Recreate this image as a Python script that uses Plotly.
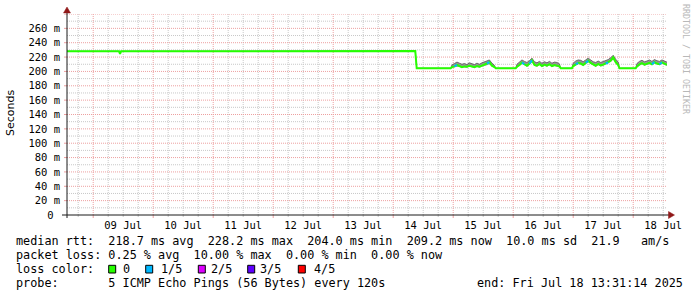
import plotly.graph_objects as go
import pandas as pd
import numpy as np

# ---------------- data ----------------
start_time = "2025-07-08 13:31:14"
end_time = "2025-07-18 13:31:14"

day_ticks = ["2025-07-09", "2025-07-10", "2025-07-11", "2025-07-12", "2025-07-13",
             "2025-07-14", "2025-07-15", "2025-07-16", "2025-07-17", "2025-07-18"]
day_label_pos = ["2025-07-09 12:00", "2025-07-10 12:00", "2025-07-11 12:00", "2025-07-12 12:00",
                 "2025-07-13 12:00", "2025-07-14 12:00", "2025-07-15 12:00", "2025-07-16 12:00",
                 "2025-07-17 12:00", "2025-07-18 12:00"]
day_labels = ["09 Jul", "10 Jul", "11 Jul", "12 Jul", "13 Jul",
              "14 Jul", "15 Jul", "16 Jul", "17 Jul", "18 Jul"]
minor_hours = ["06:00", "12:00", "18:00"]

y_tick_vals = [0, 20, 40, 60, 80, 100, 120, 140, 160, 180, 200, 220, 240, 260, 280]
y_tick_text = ["0\u00a0", "20 m", "40 m", "60 m", "80 m", "100 m", "120 m", "140 m", "160 m",
               "180 m", "200 m", "220 m", "240 m", "260 m", ""]
y_minor_vals = [10, 30, 50, 70, 90, 110, 130, 150, 170, 190, 210, 230, 250, 270]

# steady stretch before / after the drop (median rtt, ms)
steady1_times = ["2025-07-08 13:31:14", "2025-07-09 10:20:00", "2025-07-09 10:44:00", "2025-07-09 11:08:00",
                 "2025-07-14 08:50:00", "2025-07-14 09:24:00", "2025-07-14 23:00:00"]
steady1_median = [228.0, 228.0, 224.5, 228.0, 228.4, 204.4, 204.4]

steady2_times = ["2025-07-15 17:00:00", "2025-07-16 01:00:00"]
steady2_median = [204.4, 204.4]
steady3_times = ["2025-07-16 19:00:00", "2025-07-16 23:30:00"]
steady3_median = [204.4, 204.4]
steady4_times = ["2025-07-17 18:30:00", "2025-07-18 01:00:00"]
steady4_median = [204.4, 204.4]

# noisy stretches, hourly samples
segA_start = "2025-07-14 23:30"
segA_median = [206.0, 207.0, 209.0, 207.5, 206.0, 207.0, 206.5, 208.0, 207.0, 206.0, 207.5, 206.5,
               208.0, 209.0, 211.0, 213.0, 208.0, 206.0]
segA_low = [205.0, 205.5, 206.5, 206.0, 205.0, 205.5, 205.0, 206.5, 205.5, 205.0, 206.0, 205.0,
            206.5, 207.0, 208.5, 210.0, 206.5, 205.0]
segA_high = [209.0, 211.0, 213.0, 211.5, 210.0, 211.0, 209.5, 212.0, 211.0, 209.5, 211.5, 210.0,
             212.0, 213.5, 215.0, 216.0, 211.5, 208.5]
segA_loss = [0, 0, 1, 0, 0, 0, 0, 0, 0, 0, 0, 0, 0, 0, 0, 1, 0, 0]

segB_start = "2025-07-16 01:30"
segB_median = [206.5, 209.0, 212.5, 210.0, 208.0, 211.0, 215.5, 209.0, 208.0, 210.5, 207.5, 209.5,
               208.0, 210.0, 207.5, 209.0, 208.5, 207.0]
segB_low = [205.0, 207.5, 210.5, 208.5, 206.5, 209.0, 213.0, 207.5, 206.5, 209.0, 206.0, 208.0,
            206.5, 208.5, 206.0, 207.5, 207.0, 205.5]
segB_high = [210.0, 213.0, 216.0, 214.0, 212.5, 215.0, 218.5, 213.5, 212.0, 214.0, 211.5, 213.5,
             212.0, 214.0, 211.5, 213.0, 212.5, 210.5]
segB_loss = [0, 0, 0, 1, 0, 0, 1, 0, 0, 0, 0, 0, 0, 0, 0, 0, 0, 0]

segC_start = "2025-07-17 00:00"
segC_median = [207.5, 210.0, 212.0, 211.0, 209.0, 212.0, 215.0, 212.0, 209.5, 208.0, 210.5, 208.5,
               209.5, 211.0, 212.5, 215.0, 219.5, 213.0, 209.0]
segC_low = [206.0, 208.5, 210.0, 209.5, 207.5, 210.0, 213.0, 210.5, 208.0, 206.5, 209.0, 207.0,
            208.0, 209.5, 211.0, 213.0, 216.5, 211.0, 207.5]
segC_high = [211.5, 214.5, 216.0, 215.5, 213.5, 216.0, 218.5, 216.0, 213.5, 212.5, 214.5, 212.5,
             213.5, 215.0, 216.5, 219.0, 222.5, 217.0, 213.0]
segC_loss = [0, 0, 1, 0, 0, 0, 1, 0, 0, 0, 0, 0, 0, 0, 1, 0, 0, 0, 0]

segD_start = "2025-07-18 01:30"
segD_median = [207.0, 210.0, 211.5, 209.5, 210.5, 212.0, 210.0, 213.0, 211.0, 210.0, 212.5, 210.5, 209.2]
segD_low = [205.5, 208.5, 210.0, 208.0, 209.0, 210.5, 208.5, 211.0, 209.5, 208.5, 211.0, 209.0, 207.5]
segD_high = [211.0, 214.0, 215.5, 213.5, 214.5, 216.0, 214.0, 216.5, 215.0, 214.0, 216.0, 214.5, 213.0]
segD_loss = [0, 0, 0, 0, 0, 0, 0, 1, 0, 0, 1, 0, 0]

loss_labels = ["0", "1/5", "2/5", "3/5", "4/5"]
loss_colors = ["#26ff00", "#00b8ff", "#dd00ff", "#5e00ff", "#ff0000"]

# ---------------- assemble series ----------------
T, MED, LO, HI, LOSS = [], [], [], [], []


def add_steady(times, med):
    T.extend(pd.to_datetime(times, format="mixed"))
    MED.extend(med); LO.extend(med); HI.extend(med); LOSS.extend([0] * len(med))


def add_seg(start, med, lo, hi, loss):
    T.extend(pd.date_range(start, periods=len(med), freq="h"))
    MED.extend(med); LO.extend(lo); HI.extend(hi); LOSS.extend(loss)


add_steady(steady1_times, steady1_median)
add_seg(segA_start, segA_median, segA_low, segA_high, segA_loss)
add_steady(steady2_times, steady2_median)
add_seg(segB_start, segB_median, segB_low, segB_high, segB_loss)
add_steady(steady3_times, steady3_median)
add_seg(segC_start, segC_median, segC_low, segC_high, segC_loss)
add_steady(steady4_times, steady4_median)
add_seg(segD_start, segD_median, segD_low, segD_high, segD_loss)

blue = [None] * len(MED)
for i, l in enumerate(LOSS):
    if l == 1:
        blue[i] = MED[i]
        if i > 0:
            blue[i - 1] = MED[i - 1]

x_minor_vals = ["2025-07-08 18:00"] + [f"{d} {h}" for d in day_ticks for h in minor_hours]

# ---------------- geometry helpers (pixels -> paper) ----------------
W, H = 697, 297
L, R, TOP, BOT = 67, 667, 14, 215


def px(x):
    return (x - L) / (R - L)


def py(y):
    return (BOT - y) / (BOT - TOP)


MONO = "DejaVu Sans Mono"
fig = go.Figure()

fig.add_trace(go.Scatter(x=T, y=LO, mode="lines", line=dict(width=0, color="#999999"),
                         hoverinfo="skip", showlegend=False))
fig.add_trace(go.Scatter(x=T, y=HI, mode="lines", line=dict(width=0.8, color="#555555"),
                         fill="tonexty", fillcolor="#969696", hoverinfo="skip", showlegend=False))
fig.add_trace(go.Scatter(x=T, y=MED, mode="lines", line=dict(width=2, color=loss_colors[0]),
                         showlegend=False))
fig.add_trace(go.Scatter(x=T, y=blue, mode="lines", connectgaps=False,
                         line=dict(width=2, color=loss_colors[1]), showlegend=False))

grid_gray = "#c8c8c8"
grid_red = "#eda0a0"

fig.update_layout(
    width=W, height=H,
    margin=dict(l=L, r=W - R, t=TOP, b=H - BOT),
    paper_bgcolor="white", plot_bgcolor="white",
    showlegend=False,
    xaxis=dict(type="date", range=[start_time, end_time], tickmode="array",
               tickvals=day_label_pos, ticktext=day_labels, showgrid=False, ticks="",
               showline=False, zeroline=False, ticklabelstandoff=2,
               tickfont=dict(family=MONO, size=10.5, color="#000000")),
    yaxis=dict(range=[0, 280], tickmode="array", tickvals=y_tick_vals, ticktext=y_tick_text,
               showgrid=False, zeroline=False, ticks="", showline=False,
               ticklabelstandoff=6,
               tickfont=dict(family=MONO, size=10.5, color="#000000")),
)

shapes = []
# grid (dotted, drawn below the data)
for t in x_minor_vals:
    shapes.append(dict(type="line", xref="x", yref="paper", x0=t, x1=t, y0=0, y1=1, layer="below",
                       line=dict(color=grid_gray, width=1, dash="1px,1px")))
    shapes.append(dict(type="line", xref="x", yref="paper", x0=t, x1=t, y0=py(215), y1=py(217), layer="below",
                       line=dict(color=grid_gray, width=1)))
for v in y_minor_vals:
    shapes.append(dict(type="line", xref="paper", yref="y", x0=0, x1=1, y0=v, y1=v, layer="below",
                       line=dict(color=grid_gray, width=1, dash="1px,1px")))
for t in day_ticks:
    shapes.append(dict(type="line", xref="x", yref="paper", x0=t, x1=t, y0=0, y1=1, layer="below",
                       line=dict(color=grid_red, width=1, dash="1px,1px")))
    shapes.append(dict(type="line", xref="x", yref="paper", x0=t, x1=t, y0=py(215), y1=py(218), layer="below",
                       line=dict(color=grid_red, width=1)))
for v in y_tick_vals[1:]:
    shapes.append(dict(type="line", xref="paper", yref="y", x0=0, x1=1, y0=v, y1=v, layer="below",
                       line=dict(color=grid_red, width=1, dash="1px,1px")))
    shapes.append(dict(type="line", xref="paper", yref="y", x0=px(64), x1=px(67), y0=v, y1=v, layer="below",
                       line=dict(color=grid_red, width=1)))

axis_col = "#1a1a1a"
shapes.append(dict(type="line", xref="paper", yref="paper", x0=px(62), x1=px(670), y0=py(215), y1=py(215),
                   line=dict(color=axis_col, width=1)))
shapes.append(dict(type="line", xref="paper", yref="paper", x0=px(67), x1=px(67), y0=py(218), y1=py(11),
                   line=dict(color=axis_col, width=1)))
arrow_col = "#901818"
shapes.append(dict(type="path", xref="paper", yref="paper",
                   path=f"M {px(63.5)} {py(13)} L {px(70.5)} {py(13)} L {px(67)} {py(7)} Z",
                   fillcolor=arrow_col, line=dict(color=arrow_col, width=0.5)))
shapes.append(dict(type="path", xref="paper", yref="paper",
                   path=f"M {px(668.5)} {py(211.5)} L {px(668.5)} {py(218.5)} L {px(674.5)} {py(215)} Z",
                   fillcolor=arrow_col, line=dict(color=arrow_col, width=0.5)))

box_x = [108.7, 145.7, 198.3, 247.7, 298.3]
lab_x = [122.3, 160.0, 210.0, 259.3, 312.6]
for bx, c in zip(box_x, loss_colors):
    shapes.append(dict(type="rect", xref="paper", yref="paper", x0=px(bx), x1=px(bx + 7),
                       y0=py(273), y1=py(265.3), fillcolor=c, line=dict(color="#000000", width=1)))

ann = []


def text(x, y, s, size=11.8, anchor="left", family=MONO, color="#000000", angle=0):
    ann.append(dict(xref="paper", yref="paper", x=px(x), y=py(y), text=s.replace(" ", "\u00a0"),
                    showarrow=False, xanchor=anchor, yanchor="middle", textangle=angle,
                    font=dict(family=family, size=size, color=color), borderpad=0))


text(15, 241, "median rtt:  218.7 ms avg  228.2 ms max  204.0 ms min  209.2 ms now  10.0 ms sd  21.9   am/s")
text(15, 255, "packet loss: 0.25 % avg  10.00 % max  0.00 % min  0.00 % now")
text(15, 269, "loss color:")
for lx, lab in zip(lab_x, loss_labels):
    text(lx, 269, lab)
text(15, 283, "probe:       5 ICMP Echo Pings (56 Bytes) every 120s")
text(684, 283, "end: Fri Jul 18 13:31:14 2025", anchor="right")

ann.append(dict(xref="paper", yref="paper", x=px(10), y=py(113), text="Seconds", showarrow=False,
                textangle=-90, xanchor="center", yanchor="middle",
                font=dict(family="DejaVu Sans", size=11, color="#000000")))
ann.append(dict(xref="paper", yref="paper", x=px(686), y=py(59), text="RRDTOOL / TOBI OETIKER".replace(" ", "\u00a0"),
                showarrow=False, textangle=90, xanchor="center", yanchor="middle",
                font=dict(family=MONO, size=8.3, color="#b8b8b8")))

fig.update_layout(shapes=shapes, annotations=ann)
fig.write_html("out.html")
